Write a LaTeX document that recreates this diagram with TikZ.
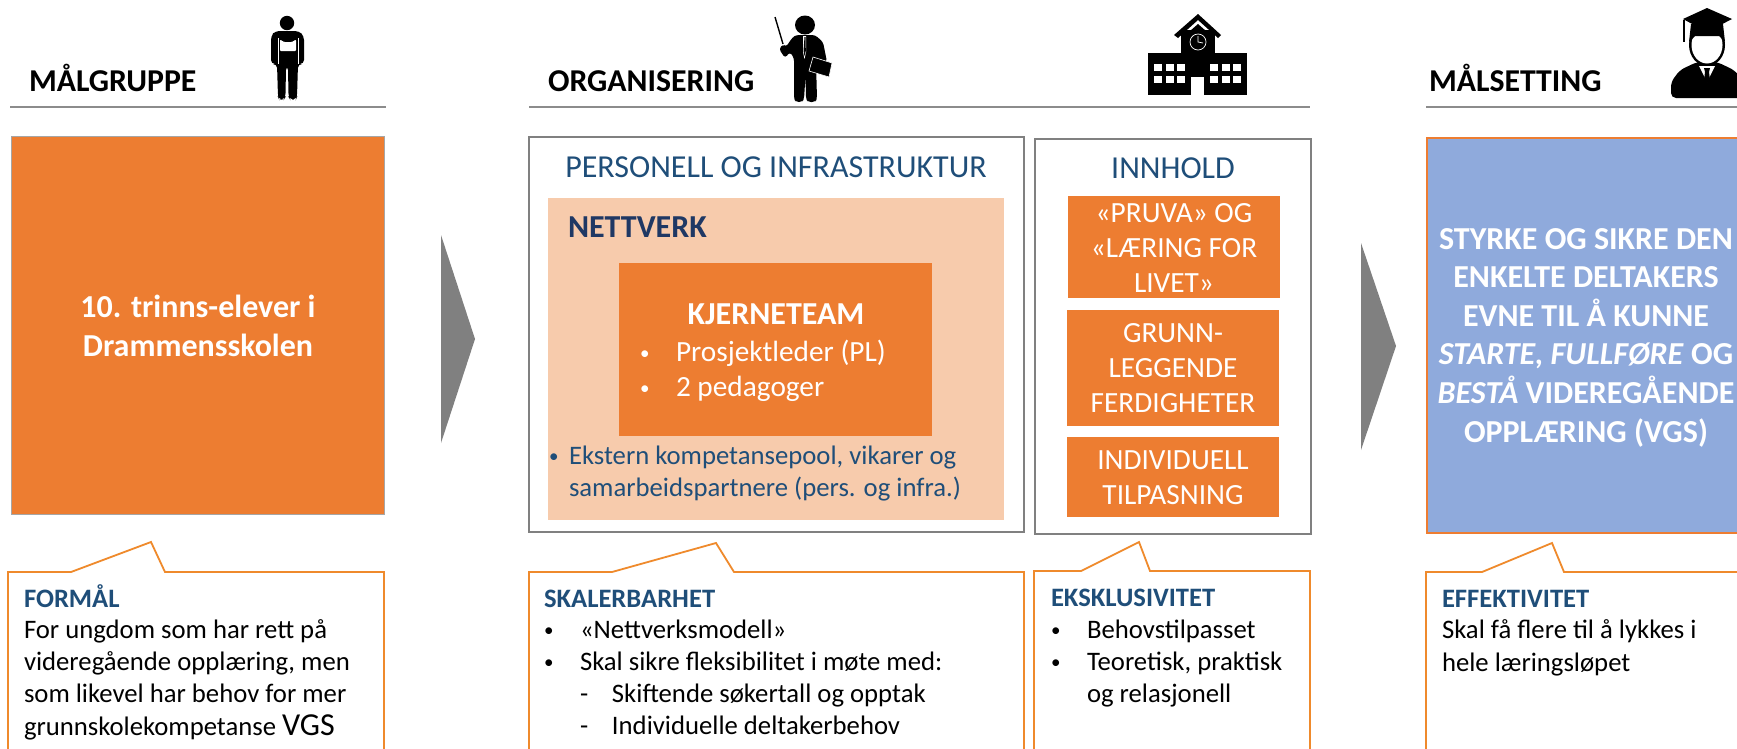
\documentclass[tikz,border=0pt]{standalone}
\usepackage{fontspec}
\setmainfont{Carlito}
\definecolor{orng}{HTML}{ED7D31}
\definecolor{peach}{HTML}{F7CBAC}
\definecolor{skyb}{HTML}{8FAADC}
\definecolor{navy}{HTML}{1F4E79}
\definecolor{deepnavy}{HTML}{1F3864}
\definecolor{arrowgray}{HTML}{808080}
\newcommand{\fsz}[2]{\fontsize{#1}{#2}\selectfont}
\newcommand{\smallbul}{\raisebox{1.5pt}{\fontsize{19}{19}\selectfont •}}
\newcommand{\bul}{\makebox[36pt][l]{\smallbul}}
\newcommand{\dsh}{\makebox[32pt][l]{-}}
\tikzset{
  txt/.style={inner sep=0pt,outer sep=0pt,anchor=base west,align=left},
  ctr/.style={inner sep=0pt,outer sep=0pt,anchor=base,align=center},
  heading/.style={txt,font=\fsz{31.8}{36}\bfseries,text=black},
  rule/.style={draw=black!45,line width=1.3pt},
  panel/.style={draw=black!50,line width=1.6pt,fill=white},
  orangebox/.style={fill=orng,draw=none},
  callout/.style={draw=orng!90!yellow,line width=1.8pt,line join=miter},
  bigarrow/.style={fill=arrowgray,draw=none},
  chead/.style={txt,font=\fsz{26.6}{30}\bfseries,text=navy},
  cbody/.style={txt,font=\fsz{26.7}{32.3},text=black},
  inbox/.style={ctr,font=\fsz{29.3}{35},text=white},
}
\begin{document}
\begin{tikzpicture}[x=1pt,y=-1pt]
\clip (0,0) rectangle (1737,748);
\fill[white] (0,0) rectangle (1737,748);

% headings and rules
\node[heading] (hmal) at (29,91) {MÅLGRUPPE};
\node[heading] (horg) at (548,91) {ORGANISERING};
\node[heading] (hset) at (1429,91) {MÅLSETTING};
\draw[rule] (10,107) -- (386,107);
\draw[rule] (529,107) -- (1310,107);
\draw[rule] (1426,107) -- (1737,107);

% student icon
\fill (287,23) circle (7.2);
\fill[rounded corners=4pt] (271,36) -- (275,31) -- (299,31) -- (304,36) -- (304,64) -- (298,64) -- (297,97) -- (296,99.5) -- (290,99.5) -- (288.5,97) -- (288,66) -- (286,66) -- (285.5,97) -- (284,99.5) -- (279,99.5) -- (278,97) -- (277,64) -- (271,64) -- cycle;
\fill[white,rounded corners=1pt] (280,39.5) -- (284,42) -- (292,42) -- (296,39.5) -- (296,51) -- (280,51) -- cycle;
\draw[white,line width=.8pt] (278,64) -- (278,38) (298,64) -- (298,38);

% teacher icon
\fill (805,25) ellipse (10 and 9.5);
\fill[rounded corners=3pt] (796,35) -- (815,35) -- (823,42) -- (827,62) -- (816,62) -- (817,99) -- (815,102) -- (808,102) -- (806,99) -- (805.5,76) -- (804,99) -- (802,102) -- (796,102) -- (794,99) -- (794,58) -- (790,52) -- (785,58) -- (779,49) -- (783,44) -- (786,47) -- (792,38) -- cycle;
\draw[line width=1.4pt] (775,17) -- (783,44);
\fill[white] (803,36) -- (806,36) -- (806,52) -- (804.5,59) -- (803,52) -- cycle;
\fill (804.5,37) -- (805.5,37) -- (805.8,51) -- (804.5,56) -- (803.5,51) -- cycle;
\fill[draw=white,line width=.6pt] (813,57) -- (832,63) -- (829,77) -- (809,71) -- cycle;

% school icon
\fill (1148,53) rectangle (1247,95);
\fill (1181,30) rectangle (1215,55);
\fill (1198,14) -- (1221,35) -- (1218,38) -- (1198,20) -- (1178,38) -- (1174,35) -- cycle;
\fill (1198,24) -- (1214,38) -- (1182,38) -- cycle;
\draw[white,line width=.7pt] (1198,42) circle (8);
\draw[white,line width=.7pt] (1198,36) -- (1198,42) -- (1203,43);
\foreach \xa in {1154,1165.5,1177,1210,1221.5,1233}{
  \foreach \ya in {64,76}{
    \fill[white] (\xa,\ya) rectangle ++(8,7);
  }
}
\fill[white] (1191,77) rectangle (1204,95);

% graduate icon
\fill[rounded corners=5pt] (1671,98) -- (1671,82) -- (1680,70) -- (1697,62) -- (1717,62) -- (1734,70) -- (1745,82) -- (1745,98) -- cycle;
\fill (1707,45) ellipse (18 and 21);
\fill[white] (1707,45) ellipse (15.5 and 18.5);
\fill (1691,24) -- (1723,24) -- (1725,42) -- (1719,36) -- (1695,36) -- (1689,42) -- cycle;
\fill[white] (1699,66) -- (1715,66) -- (1707,82) -- cycle;
\fill (1704,68) -- (1710,68) -- (1709,72) -- (1710,80) -- (1707,83) -- (1704,80) -- (1705,72) -- cycle;
\fill (1707,8) -- (1732,19) -- (1707,32) -- (1683,19) -- cycle;
\draw[line width=1.2pt] (1684,20) -- (1684,42);

% main box 1
\node[draw=black!35,line width=1.4pt,fill=orng,minimum width=373pt,minimum height=378pt,inner sep=0pt,anchor=north west] (target) at (11,136) {};
\node[ctr,font=\fsz{32}{39}\bfseries,text=white] (targettxt) at (198,356) {10. trinns-elever i\\Drammensskolen};

% arrows
\fill[bigarrow] (441,235) -- (475,339) -- (441,443) -- cycle;
\fill[bigarrow] (1361,243) -- (1396,346) -- (1361,450) -- cycle;

% personell panel
\node[panel,minimum width=495pt,minimum height=395pt,inner sep=0pt,anchor=north west] (pers) at (528,136) {};
\node[ctr,font=\fsz{32}{35},text=navy] (perstitle) at (776,177) {PERSONELL OG INFRASTRUKTUR};
\node[fill=peach,minimum width=456pt,minimum height=322pt,inner sep=0pt,anchor=north west] (nett) at (548,198) {};
\node[txt,font=\fsz{32}{35}\bfseries,text=deepnavy] (nettlab) at (568,237) {NETTVERK};
\node[orangebox,minimum width=313pt,minimum height=173pt,inner sep=0pt,anchor=north west] (kjerne) at (619,263) {};
\node[ctr,font=\fsz{32}{35}\bfseries,text=white] (kjernelab) at (776,324) {KJERNETEAM};
\node[txt,font=\fsz{29.3}{35},text=white] (kjernelist) at (640,396) {\makebox[36pt][l]{\smallbul}Prosjektleder (PL)\\\makebox[36pt][l]{\smallbul}2 pedagoger};
\node[txt,font=\fsz{26.7}{32},text=navy] (ekstern) at (549,496) {\makebox[20pt][l]{\smallbul}Ekstern kompetansepool, vikarer og\\\hspace*{20pt}samarbeidspartnere (pers. og infra.)};

% innhold panel
\node[panel,minimum width=276pt,minimum height=395pt,inner sep=0pt,anchor=north west] (innh) at (1034,138) {};
\node[ctr,font=\fsz{32}{35},text=navy] (innhtitle) at (1173,178) {INNHOLD};
\node[orangebox,minimum width=212pt,minimum height=102pt,inner sep=0pt,anchor=north west] (ba) at (1068,196) {};
\node[orangebox,minimum width=212pt,minimum height=116pt,inner sep=0pt,anchor=north west] (bb) at (1067,310) {};
\node[orangebox,minimum width=212pt,minimum height=80pt,inner sep=0pt,anchor=north west] (bc) at (1067,437) {};
\node[inbox] (bat) at (1174,292) {«PRUVA» OG\\«LÆRING FOR\\LIVET»};
\node[inbox] (bbt) at (1173,412) {GRUNN-\\LEGGENDE\\FERDIGHETER};
\node[inbox] (bct) at (1173,504) {INDIVIDUELL\\TILPASNING};

% goal box
\node[draw=orng,line width=2.2pt,fill=skyb,minimum width=340pt,minimum height=395pt,inner sep=0pt,anchor=north west] (goal) at (1426,137) {};
\node[ctr,font=\fsz{32}{38.6}\bfseries,text=white] (goaltxt) at (1586,442) {STYRKE OG SIKRE DEN\\ENKELTE DELTAKERS\\EVNE TIL Å KUNNE\\\textit{STARTE, FULLFØRE} OG\\\textit{BESTÅ} VIDEREGÅENDE\\OPPLÆRING (VGS)};

% callouts
\draw[callout] (8,752) -- (8,572) -- (71,572) -- (151,542) -- (165,572) -- (384,572) -- (384,752);
\draw[callout] (529,752) -- (529,572) -- (612,572) -- (716,543) -- (734,572) -- (1024,572) -- (1024,752);
\draw[callout] (1034,752) -- (1034,571) -- (1081,571) -- (1139,542) -- (1150,571) -- (1310,571) -- (1310,752);
\draw[callout] (1426,752) -- (1426,572) -- (1482,572) -- (1552,543) -- (1564,572) -- (1745,572);

\node[chead] (c1h) at (24,607) {FORMÅL};
\node[cbody] (c1b) at (24,735) {For ungdom som har rett på\\videregående opplæring, men\\som likevel har behov for mer\\grunnskolekompetanse {\fsz{32}{32.3}VGS}};

\node[chead] (c2h) at (544,607) {SKALERBARHET};
\node[cbody,font=\fsz{26.7}{32}] (c2b) at (544,734) {\bul«Nettverksmodell»\\\bul Skal sikre fleksibilitet i møte med:\\\hspace*{36pt}\dsh Skiftende søkertall og opptak\\\hspace*{36pt}\dsh Individuelle deltakerbehov};

\node[chead] (c3h) at (1051,606) {EKSKLUSIVITET};
\node[cbody,font=\fsz{26.7}{32}] (c3b) at (1051,702) {\bul Behovstilpasset\\\bul Teoretisk, praktisk\\\hspace*{36pt}og relasjonell};

\node[chead] (c4h) at (1442,607) {EFFEKTIVITET};
\node[cbody,font=\fsz{26.7}{32.5}] (c4b) at (1442,671) {Skal få flere til å lykkes i\\hele læringsløpet};
\end{tikzpicture}
\end{document}
